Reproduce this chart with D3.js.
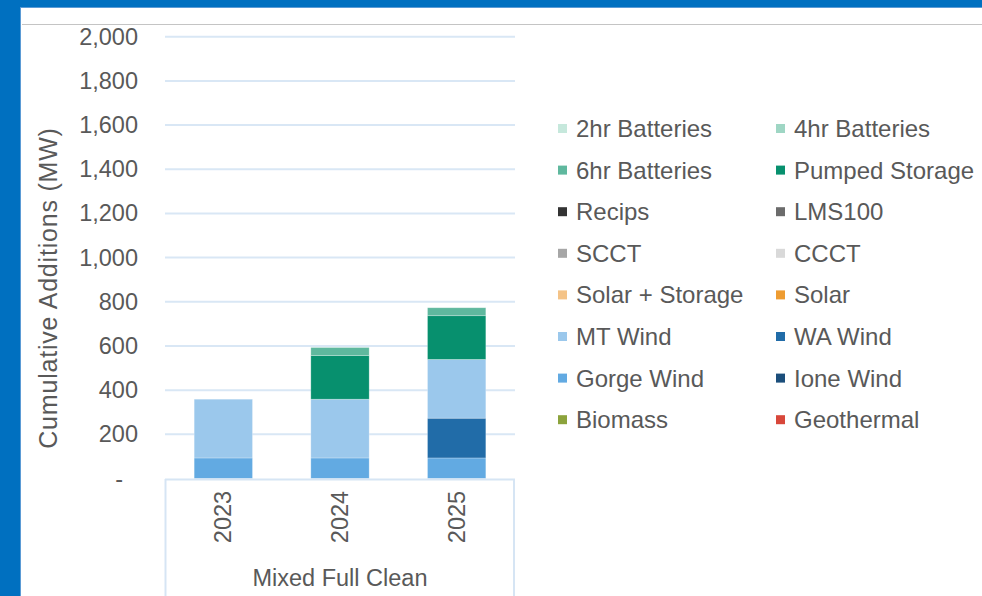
<!DOCTYPE html>
<html>
<head>
<meta charset="utf-8">
<script src="https://cdn.jsdelivr.net/npm/d3@7"></script>
<style>
  html, body { margin: 0; padding: 0; background: #fff; }
  svg { display: block; }
  text { font-family: "Liberation Sans", Arial, sans-serif; fill: #595959; }
</style>
</head>
<body>
<svg id="chart" width="982" height="596"></svg>
<script>
const years = ["2023", "2024", "2025"];
const groupLabel = "Mixed Full Clean";
const yTicks = [0, 200, 400, 600, 800, 1000, 1200, 1400, 1600, 1800, 2000];

const seriesNames = ["2hr Batteries", "4hr Batteries", "6hr Batteries", "Pumped Storage",
  "Recips", "LMS100", "SCCT", "CCCT", "Solar + Storage", "Solar",
  "MT Wind", "WA Wind", "Gorge Wind", "Ione Wind", "Biomass", "Geothermal"];
const seriesColors = ["#c6e8dc", "#9fd6c4", "#5fb89e", "#07906e",
  "#333333", "#6b6b6b", "#a6a6a6", "#d9d9d9", "#f4c387", "#ee9c31",
  "#9bc8ec", "#216ca8", "#62aae2", "#1b4e7b", "#8ca33c", "#d8473a"];

// values per year (2023, 2024, 2025)
const batt2hr   = [0, 0, 0];
const batt4hr   = [0, 0, 0];
const batt6hr   = [0, 36, 36];
const pumped    = [0, 198, 198];
const recips    = [0, 0, 0];
const lms100    = [0, 0, 0];
const scct      = [0, 0, 0];
const ccct      = [0, 0, 0];
const solarStor = [0, 0, 0];
const solar     = [0, 0, 0];
const mtWind    = [266, 266, 266];
const waWind    = [0, 0, 180];
const gorgeWind = [93, 93, 93];
const ioneWind  = [0, 0, 0];
const biomass   = [0, 0, 0];
const geothermal= [0, 0, 0];

const seriesValues = [batt2hr, batt4hr, batt6hr, pumped, recips, lms100, scct, ccct,
  solarStor, solar, mtWind, waWind, gorgeWind, ioneWind, biomass, geothermal];

const svg = d3.select("#chart");

// frame
svg.append("rect").attr("x", 0).attr("y", 0).attr("width", 982).attr("height", 596).attr("fill", "#0070c0");
svg.append("rect").attr("x", 20).attr("y", 7).attr("width", 962).attr("height", 589).attr("fill", "#5b9bd5");
svg.append("rect").attr("x", 21).attr("y", 8).attr("width", 961).attr("height", 588).attr("fill", "#ffffff");
svg.append("line").attr("x1", 22).attr("x2", 982).attr("y1", 24.5).attr("y2", 24.5)
  .attr("stroke", "#c4c4c4").attr("stroke-width", 1);

const x = d3.scaleBand().domain(years).range([165, 515]).paddingInner(0.5).paddingOuter(0.25);
const y = d3.scaleLinear().domain([0, 2000]).range([478.5, 36.7]);

// gridlines
svg.append("g").selectAll("line").data(yTicks.filter(d => d > 0)).join("line")
  .attr("x1", 165).attr("x2", 515)
  .attr("y1", d => y(d)).attr("y2", d => y(d))
  .attr("stroke", "#d9e7f5").attr("stroke-width", 2);

// y axis labels
const yAxis = d3.axisLeft(y).tickValues(yTicks).tickSize(0).tickPadding(0)
  .tickFormat(d => d === 0 ? "-" : d3.format(",")(d));
const ya = svg.append("g").attr("transform", "translate(138,0)").call(yAxis);
ya.select(".domain").remove();
ya.selectAll("text").style("font-size", "23.5px").attr("fill", "#595959")
  .attr("font-family", "Liberation Sans, Arial, sans-serif")
  .attr("dx", d => d === 0 ? -15 : 0);

// y title
svg.append("text")
  .attr("transform", "translate(57,288) rotate(-90)")
  .attr("text-anchor", "middle")
  .style("font-size", "25px")
  .style("letter-spacing", "0.8px")
  .text("Cumulative Additions (MW)");

// stacked data
const table = years.map((yr, i) => {
  const row = { year: yr };
  seriesNames.forEach((s, k) => row[s] = seriesValues[k][i]);
  return row;
});
const stackKeys = seriesNames.slice().reverse();
const stacked = d3.stack().keys(stackKeys)(table);
const colorOf = d3.scaleOrdinal().domain(seriesNames).range(seriesColors);

svg.append("g").selectAll("g").data(stacked).join("g")
  .attr("fill", d => colorOf(d.key))
  .selectAll("rect").data(d => d.filter(p => p[1] - p[0] > 0)).join("rect")
  .attr("x", d => x(d.data.year))
  .attr("width", x.bandwidth())
  .attr("y", d => y(d[1]))
  .attr("height", d => y(d[0]) - y(d[1]))
  .attr("stroke", "#ffffff").attr("stroke-opacity", 0.35).attr("stroke-width", 0.75);

// x axis lines (box)
svg.append("line").attr("x1", 165).attr("x2", 515).attr("y1", 479.5).attr("y2", 479.5)
  .attr("stroke", "#d6e5f4").attr("stroke-width", 2);
svg.append("line").attr("x1", 165.5).attr("x2", 165.5).attr("y1", 479).attr("y2", 596)
  .attr("stroke", "#d6e5f4").attr("stroke-width", 2);
svg.append("line").attr("x1", 514).attr("x2", 514).attr("y1", 479).attr("y2", 596)
  .attr("stroke", "#d6e5f4").attr("stroke-width", 2);

// year labels
svg.append("g").selectAll("text").data(years).join("text")
  .attr("transform", d => `translate(${x(d) + x.bandwidth() / 2 + 8},517) rotate(-90)`)
  .attr("text-anchor", "middle")
  .style("font-size", "23.5px")
  .text(d => d);

svg.append("text").attr("x", 340).attr("y", 586).attr("text-anchor", "middle")
  .style("font-size", "23.5px").text(groupLabel);

// legend
const legend = svg.append("g");
const items = legend.selectAll("g").data(seriesNames).join("g")
  .attr("transform", (d, i) => `translate(${i % 2 === 0 ? 558 : 776},${128.5 + Math.floor(i / 2) * 41.6})`);
items.append("rect").attr("x", 0).attr("y", -4.5).attr("width", 9).attr("height", 9)
  .attr("fill", d => colorOf(d));
items.append("text").attr("x", 18).attr("y", 8.5).style("font-size", "24px").text(d => d);
</script>
</body>
</html>
